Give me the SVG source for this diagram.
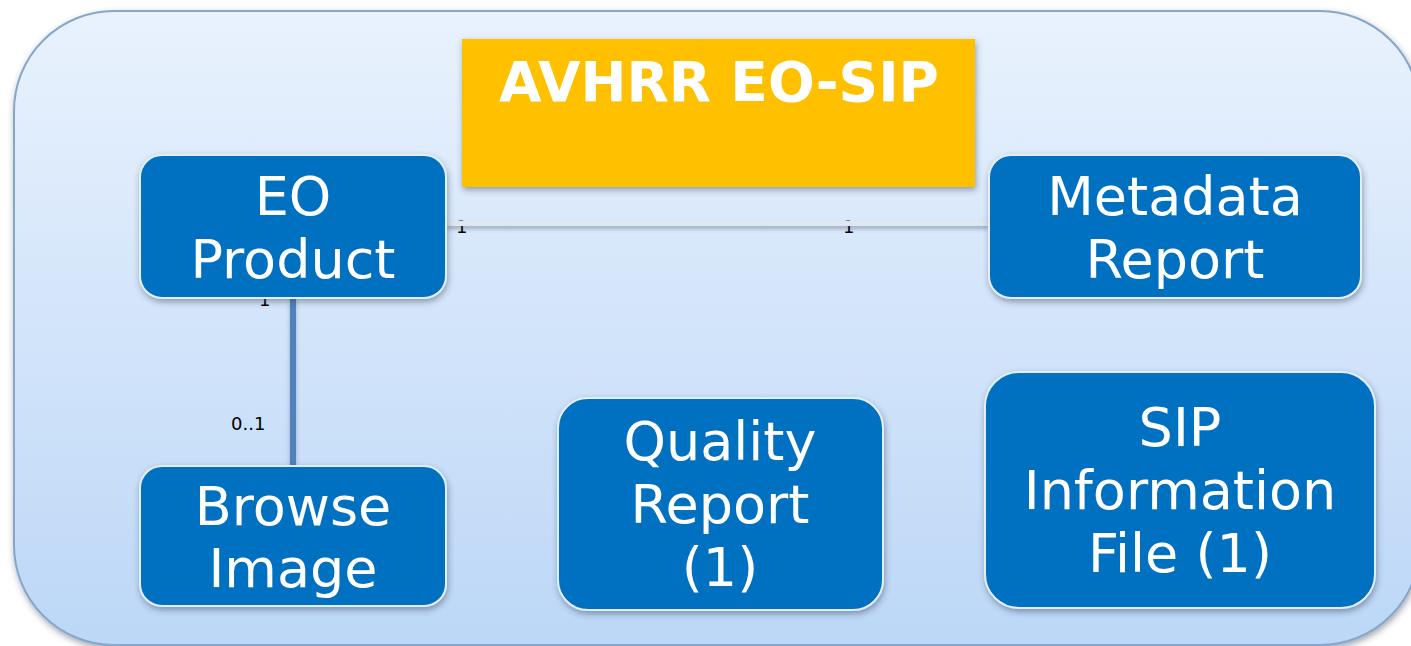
<svg xmlns="http://www.w3.org/2000/svg" width="1411" height="646" viewBox="0 0 1411 646">
  <defs>
    <linearGradient id="bg" x1="0" y1="0" x2="0" y2="1">
      <stop offset="0" stop-color="#e9f2fd"/>
      <stop offset="1" stop-color="#bcd7f7"/>
    </linearGradient>
    <filter id="shadow" x="-10%" y="-10%" width="130%" height="140%">
      <feDropShadow dx="1" dy="3" stdDeviation="3" flood-color="#2a3a55" flood-opacity="0.45"/>
    </filter>
    <filter id="lineShadow" filterUnits="userSpaceOnUse" x="0" y="0" width="1411" height="646">
      <feDropShadow dx="0" dy="3" stdDeviation="2" flood-color="#2a3a55" flood-opacity="0.35"/>
    </filter>
  </defs>
  <style>
    .node rect { fill: #0070c0; stroke: #e4eef8; stroke-width: 2; filter: url(#shadow); }
    .node text { fill: #ffffff; font-family: "DejaVu Sans", Verdana, sans-serif; font-size: 54px; text-anchor: middle; }
    .mult { fill: #000000; font-family: "DejaVu Sans", Verdana, sans-serif; font-size: 18px; }
  </style>

  <!-- package container -->
  <rect x="14" y="11" width="1406" height="634" rx="100" ry="100" fill="url(#bg)" stroke="#86a6ca" stroke-width="2" filter="url(#shadow)"/>

  <!-- title banner -->
  <g id="title">
    <rect x="462" y="39" width="513" height="148" fill="#ffc000" filter="url(#shadow)"/>
    <text x="719" y="101" fill="#ffffff" font-family="DejaVu Sans, Verdana, sans-serif" font-size="55" font-weight="bold" text-anchor="middle">AVHRR EO-SIP</text>
  </g>

  <!-- associations -->
  <g id="connectors">
    <text class="mult" x="456" y="233">1</text>
    <text class="mult" x="843" y="233">1</text>
    <rect x="446" y="220.5" width="543" height="5.5" fill="#dfe7f0" filter="url(#lineShadow)"/>
    <rect x="290" y="298" width="6" height="167" fill="#4f81bd" filter="url(#lineShadow)"/>
    <text class="mult" x="259" y="306">1</text>
    <text class="mult" x="231" y="430">0..1</text>
  </g>

  <g id="eo-product" class="node">
    <rect x="140" y="155" width="306" height="143" rx="22"/>
    <text x="293" y="215">EO</text>
    <text x="293" y="278">Product</text>
  </g>

  <g id="metadata-report" class="node">
    <rect x="989" y="155" width="372" height="143" rx="22"/>
    <text x="1175" y="215">Metadata</text>
    <text x="1175" y="278">Report</text>
  </g>

  <g id="browse-image" class="node">
    <rect x="140" y="466" width="306" height="140" rx="22"/>
    <text x="293" y="525">Browse</text>
    <text x="293" y="587">Image</text>
  </g>

  <g id="quality-report" class="node">
    <rect x="558" y="398" width="325" height="212" rx="30"/>
    <text x="720" y="460">Quality</text>
    <text x="720" y="523">Report</text>
    <text x="720" y="586">(1)</text>
  </g>

  <g id="sip-information-file" class="node">
    <rect x="985" y="372" width="390" height="236" rx="34"/>
    <text x="1180" y="446">SIP</text>
    <text x="1180" y="509">Information</text>
    <text x="1180" y="572">File (1)</text>
  </g>
</svg>
